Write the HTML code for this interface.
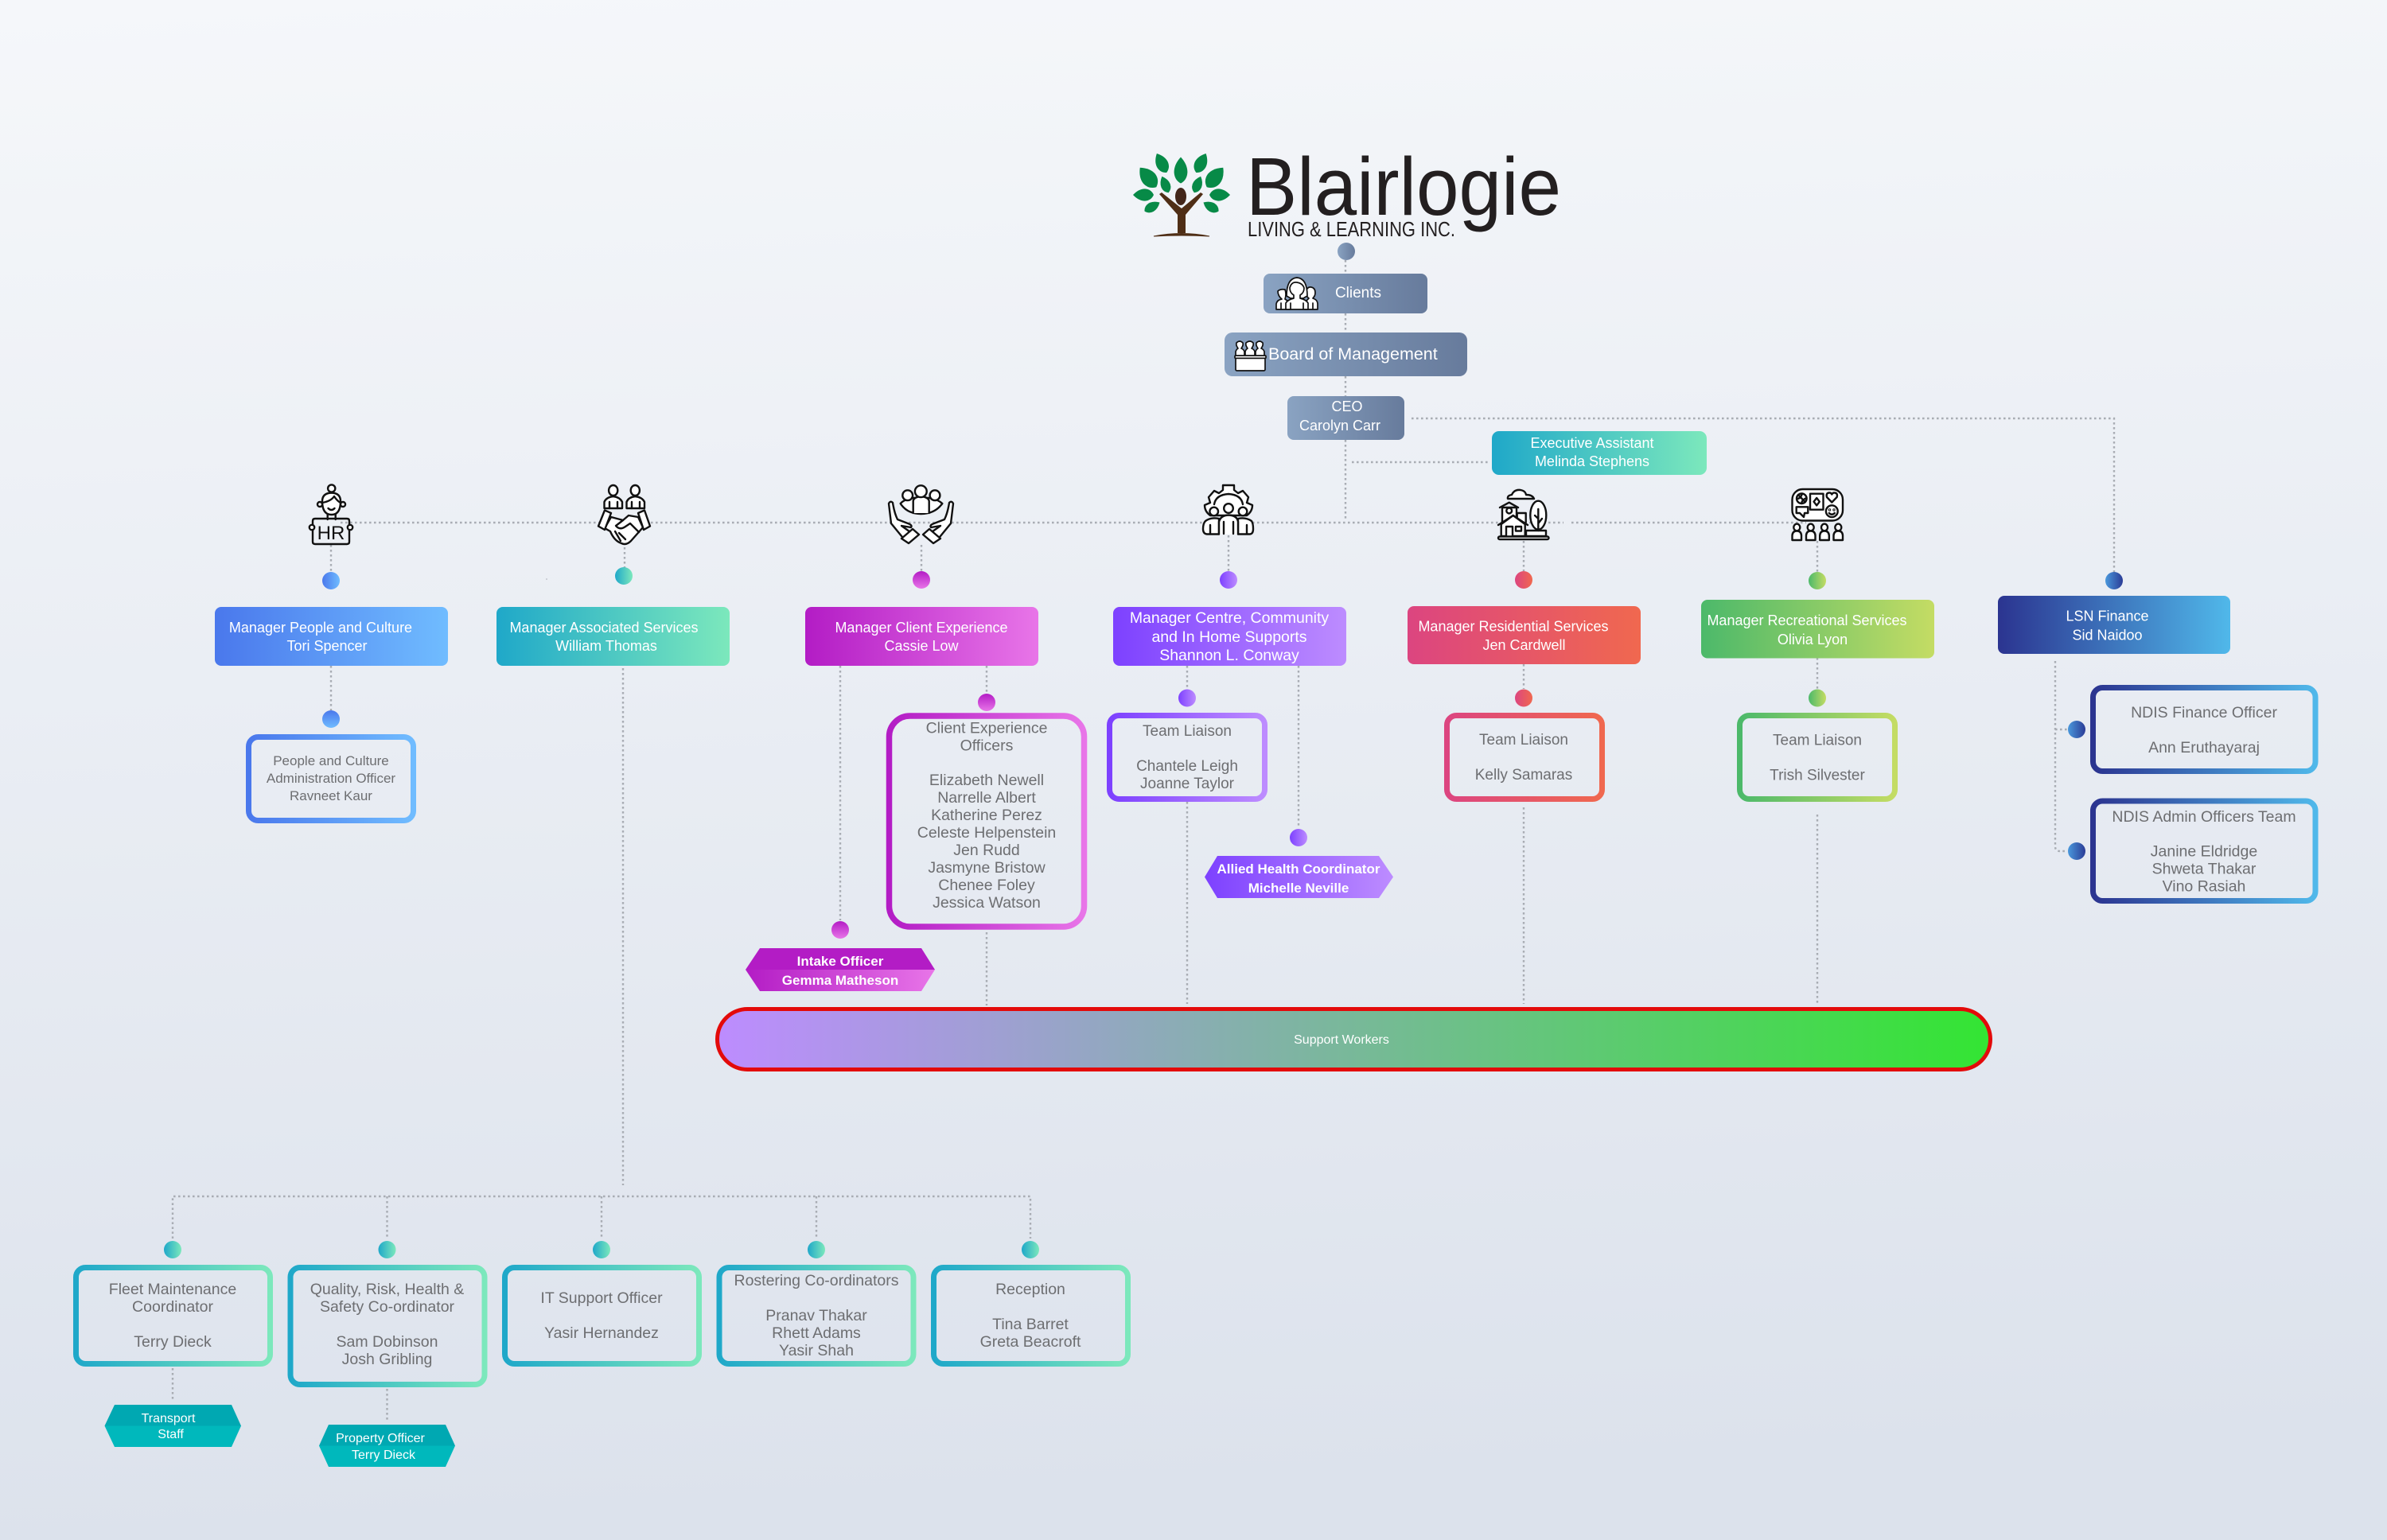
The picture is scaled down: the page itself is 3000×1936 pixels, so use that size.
<!DOCTYPE html>
<html lang="en"><head><meta charset="utf-8"><title>Blairlogie Org Chart</title>
<style>
html,body{margin:0;padding:0;background:#e8ecf2}
svg{display:block}
text{font-family:"Liberation Sans",sans-serif}
.w{fill:#fff;text-anchor:middle;font-size:18px}
.b{fill:#fff;text-anchor:middle;font-size:17px;font-weight:bold}
.g{fill:#6d6e71;text-anchor:middle;font-size:19.5px}
.c{fill:#fff;text-anchor:middle;font-size:16px}
.d{fill:none;stroke:#a9adb4;stroke-width:2.4;stroke-dasharray:2.6 3.4}
.i{fill:none;stroke:#111;stroke-width:2.4;stroke-linejoin:round;stroke-linecap:round}
.iw{fill:#fff;stroke:#111;stroke-width:2.4;stroke-linejoin:round;stroke-linecap:round}
</style></head><body>
<svg xmlns="http://www.w3.org/2000/svg" width="3000" height="1936" viewBox="0 0 3000 1936">
<defs>
<linearGradient id="bg" x1="0.1" y1="0" x2="0.18" y2="1"><stop offset="0" stop-color="#f5f7fa"/><stop offset="1" stop-color="#dce2ec"/></linearGradient>
<linearGradient id="sl"><stop offset="0" stop-color="#8aa3c2"/><stop offset="1" stop-color="#677b9c"/></linearGradient>
<linearGradient id="te"><stop offset="0" stop-color="#1fa8c9"/><stop offset="1" stop-color="#7ce8bc"/></linearGradient>
<linearGradient id="bl"><stop offset="0" stop-color="#4a78ec"/><stop offset="1" stop-color="#70bcff"/></linearGradient>
<linearGradient id="blv" x2="0" y2="1"><stop offset="0" stop-color="#4a78ec"/><stop offset="1" stop-color="#70bcff"/></linearGradient>
<linearGradient id="ma"><stop offset="0" stop-color="#b31cc5"/><stop offset="1" stop-color="#e875e8"/></linearGradient>
<linearGradient id="mav" x2="0" y2="1"><stop offset="0" stop-color="#b31cc5"/><stop offset="1" stop-color="#e875e8"/></linearGradient>
<linearGradient id="pu"><stop offset="0" stop-color="#7d41ff"/><stop offset="1" stop-color="#bd8cff"/></linearGradient>
<linearGradient id="re"><stop offset="0" stop-color="#dc4580"/><stop offset="1" stop-color="#f0684f"/></linearGradient>
<linearGradient id="gr"><stop offset="0" stop-color="#4cb96a"/><stop offset="1" stop-color="#c4dc64"/></linearGradient>
<linearGradient id="na"><stop offset="0" stop-color="#2b3490"/><stop offset="1" stop-color="#50b8ea"/></linearGradient>
<linearGradient id="nar"><stop offset="0" stop-color="#4a98dc"/><stop offset="1" stop-color="#2b3c96"/></linearGradient>
<linearGradient id="sw"><stop offset="0" stop-color="#bd8cff"/><stop offset="1" stop-color="#33e533"/></linearGradient>
<path id="l" d="M0 -1 Q.8 -.45 .8 .15 Q.75 .75 0 1 Q-.75 .75 -.8 .15 Q-.8 -.45 0 -1Z" fill="#078a47"/>
</defs>
<rect width="3000" height="1936" fill="url(#bg)"/>

<!-- connectors -->
<g class="d">
<path d="M1691 327V345M1691 394V418M1691 473V498M1691 553V653"/>
<path d="M1774 526H2657V720"/>
<path d="M1699 581H1872"/>
<path d="M428 657H1965M1975 657H2270"/>
<path d="M416 685V718M785 688V714M1158 685V718M1544 673V718M1915 680V718M2284 680V719"/>
<path d="M416 837V893"/>
<path d="M783 840V1490"/>
<path d="M217 1557V1504H1295V1557M486.5 1504V1557M756 1504V1557M1026 1504V1557"/>
<path d="M217 1720V1762M486.5 1746V1788"/>
<path d="M1056 837V1157"/>
<path d="M1240 837V872M1240 1172V1264"/>
<path d="M1492 837V866M1492 1008V1262"/>
<path d="M1632 837V1041"/>
<path d="M1915 835V866M1915 1015V1262"/>
<path d="M2284 827V866M2284 1024V1262"/>
<path d="M2583 831V1064Q2583 1070 2589 1070H2598M2583 917H2598"/>
</g>
<circle cx="687" cy="728" r="0.8" fill="#a9adb4"/>

<!-- logo -->
<use href="#l" transform="translate(1460 205) rotate(-27) scale(9.5 13.5)"/>
<use href="#l" transform="translate(1484 214) scale(10.5 16.5)"/>
<use href="#l" transform="translate(1509.5 205) rotate(27) scale(9.5 13.5)"/>
<use href="#l" transform="translate(1443 223) rotate(-40) scale(12 16)"/>
<use href="#l" transform="translate(1527 223) rotate(40) scale(12 16)"/>
<use href="#l" transform="translate(1464.5 232) rotate(-22) scale(7.5 11)"/>
<use href="#l" transform="translate(1505 232) rotate(22) scale(7.5 11)"/>
<use href="#l" transform="translate(1437 245) rotate(-90) scale(9.5 13)"/>
<use href="#l" transform="translate(1533 245) rotate(90) scale(9.5 13)"/>
<use href="#l" transform="translate(1448 260) rotate(60) scale(7.5 11)"/>
<use href="#l" transform="translate(1522 260) rotate(-60) scale(7.5 11)"/>
<ellipse cx="1484" cy="247" rx="7" ry="11" fill="#43261a"/>
<path d="M1457 244L1480 270V293H1490V270L1512 244L1509 242L1485 262L1460 242Z" fill="#4f2e16"/>
<path d="M1450 297Q1485 290 1520 297Q1485 295 1450 297Z" fill="#4f2e16" stroke="#4f2e16"/>
<text x="1566" y="270" font-size="103" fill="#231f20" textLength="396" lengthAdjust="spacingAndGlyphs">Blairlogie</text>
<text x="1568" y="297" font-size="26" fill="#231f20" textLength="261" lengthAdjust="spacingAndGlyphs">LIVING &amp; LEARNING INC.</text>

<circle cx="1692" cy="316" r="11" fill="url(#sl)"/>

<!-- top boxes -->
<rect x="1588" y="344" width="206" height="50" rx="8" fill="url(#sl)"/>
<text class="w" x="1707" y="374" style="font-size:19px">Clients</text>
<g class="iw" style="stroke-width:1.7">
<path d="M1604 389V382Q1605 377 1611 376Q1606 372 1606 366Q1609 363 1615 364Q1617 370 1615 376L1621 380V389Z"/>
<path d="M1640 389V380L1645 375Q1641 372 1641 367Q1643 360 1648 361Q1653 362 1653 368Q1653 372 1650 375Q1656 377 1656 382V389Z"/>
<path d="M1617 372Q1617 350 1630 349Q1643 350 1643 372L1638 375H1622Z"/>
<path d="M1616 389V381Q1618 377 1626 375V371Q1621 368 1621 362Q1623 354 1630 355Q1637 356 1639 362Q1639 368 1634 371V375Q1642 377 1644 381V389Z"/>
<path d="M1610 381V389M1622 381V389M1638 381V389M1650 381V389" fill="none"/>
</g>
<rect x="1539" y="418" width="305" height="55" rx="10" fill="url(#sl)"/>
<g class="iw" style="stroke-width:1.7">
<path d="M1553 448V442Q1554 439 1556 438Q1553 434 1554 431Q1558 427 1562 431Q1563 434 1560 438Q1563 439 1564 442V448Z"/>
<path d="M1565 448V442Q1566 439 1568 438Q1565 434 1566 431Q1571 427 1575 431Q1576 434 1573 438Q1576 439 1577 442V448Z"/>
<path d="M1578 448V442Q1579 439 1581 438Q1578 434 1579 431Q1583 427 1587 431Q1588 434 1585 438Q1588 439 1589 442V448Z"/>
<rect x="1553" y="450" width="37" height="16" rx="1.5"/>
<rect x="1552" y="447" width="39" height="3.4" rx="1"/>
</g>
<text class="w" x="1594" y="452" style="font-size:21.5px;text-anchor:start">Board of Management</text>
<rect x="1618" y="498" width="147" height="55" rx="8" fill="url(#sl)"/>
<text class="w" x="1693" y="517">CEO</text>
<text class="w" x="1684" y="541">Carolyn Carr</text>
<rect x="1875" y="542" width="270" height="55" rx="9" fill="url(#te)"/>
<text class="w" x="2001" y="563">Executive Assistant</text>
<text class="w" x="2001" y="586">Melinda Stephens</text>

<!-- HR -->
<g class="iw">
<circle cx="416.7" cy="614" r="4.6"/>
<circle cx="402" cy="634" r="3"/><circle cx="431" cy="634" r="3"/>
<path d="M411.7 645V653M421.7 645V653"/>
<path d="M405 630Q405 620 416.7 619.5Q428 620 428 630Q428 647 416.7 647Q405 647 405 630Z"/>
<path d="M405 632Q416 630 420 624Q424 630 428 632" fill="none"/>
<path d="M412.5 639Q416.5 643 420.5 639" fill="none"/>
<path d="M393 655Q393 652 396 652H436Q439 652 439 655V681Q439 684 436 684H396Q393 684 393 681Z" fill="none"/>
<circle cx="392" cy="663" r="3.2"/><circle cx="440" cy="663" r="3.2"/>
</g>
<text x="416" y="678" font-size="24" fill="#111" text-anchor="middle">HR</text>

<!-- handshake -->
<g class="iw">
<ellipse cx="770.7" cy="616.5" rx="5.6" ry="6.5"/><ellipse cx="798.3" cy="616.5" rx="5.6" ry="6.5"/>
<path d="M759.5 639V631Q762 625 770.7 624Q779 625 782 631V639Z"/>
<path d="M787.5 639V631Q790 625 798.3 624Q807 625 810 631V639Z"/>
<path d="M766 631V639M776 631V639M794 631V639M804 631V639" fill="none"/>
<path d="M768 650L783 654L790 648L802 650L808 663L793 680Q787 686 781 683Q772 680 767 668L760 664Z"/>
<path d="M783 654L774 661Q779 667 786 662L792 658L803 669" fill="none"/>
<path d="M778 670L786 678M773 668L780 680" fill="none"/>
<path d="M760 641.5L768 645L760 666L752 661.5Z"/>
<path d="M810 641.5L802 645L809 666L817 661.5Z"/>
</g>

<!-- hands -->
<g class="iw">
<path d="M1131.7 633Q1136 628 1147 626H1168Q1179 628 1184.3 633Q1175 646 1157.5 646Q1140 646 1131.7 633Z"/>
<path d="M1147.7 645V630Q1148 625 1157.5 624Q1167 625 1167.7 630V645" fill="#fff"/>
<circle cx="1140.7" cy="622.7" r="6.4"/><circle cx="1175" cy="622.7" r="6.4"/><circle cx="1157.3" cy="617.7" r="7.4"/>
<path d="M1117 633Q1119 629 1122 632Q1124 645 1128 653L1141 658Q1147 660 1145 663L1133 661L1147 671L1138 680L1120 658Z"/>
<path d="M1198 633Q1196 629 1193 632Q1191 645 1187 653L1174 658Q1168 660 1170 663L1182 661L1168 671L1177 680L1195 658Z"/>
<path d="M1133 677L1147 665L1155 672L1142 683Z"/>
<path d="M1182 677L1168 665L1160 672L1173 683Z"/>
</g>

<!-- gear -->
<g class="iw">
<path d="M1521 648Q1514 643 1514 635L1521 632L1519 625L1526 617L1532 620L1537 616V610H1551V616L1556 620L1562 617L1569 625L1567 632L1574 635Q1574 643 1567 648Z"/>
<path d="M1526 634Q1528 622 1544 621Q1560 622 1562 634" fill="none"/>
<circle cx="1525.7" cy="643" r="5.3"/><circle cx="1562" cy="643" r="5.3"/><circle cx="1544" cy="639" r="5.8"/>
<path d="M1532 652Q1522 650 1515 655Q1512 658 1512 665Q1512 671 1517 671.5H1532Z"/>
<path d="M1556 652Q1566 650 1573 655Q1575 658 1575 665Q1575 671 1571 671.5H1556Z"/>
<path d="M1532 671.5V656Q1534 648 1544 647.5Q1555 648 1556 656V671.5" />
<path d="M1538 656V671M1550 656V671M1521 660V671M1567 660V671" fill="none"/>
</g>

<!-- house -->
<g class="iw">
<path d="M1895 627Q1894 623 1900 622Q1903 615 1911 616Q1917 617 1918 622Q1926 622 1928 627Z"/>
<path d="M1918 667H1943V674H1918Z"/>
<ellipse cx="1933.3" cy="647.7" rx="10" ry="18"/>
<path d="M1933.3 640V667M1933.3 652L1929 648M1933.3 658L1938 652" fill="none"/>
<path d="M1906.7 653V645H1917.7V657" />
<path d="M1888 660V638H1906V660Z"/>
<path d="M1885 638L1896.7 631.7L1908 638" fill="none"/>
<circle cx="1896.7" cy="642" r="3.4"/>
<path d="M1886.7 659L1901.7 648L1916.7 659V674H1886.7Z"/>
<path d="M1883 660L1901.7 648L1920 660" fill="none"/>
<path d="M1893 674V662H1901V674" />
<rect x="1905" y="662" width="7" height="5.5"/>
<rect x="1883" y="674.5" width="63.5" height="3.6" rx="1.8"/>
</g>

<!-- game -->
<g class="iw">
<rect x="2252.5" y="615" width="63.5" height="39.5" rx="13"/>
<circle cx="2264.3" cy="626.7" r="6.3"/><path d="M2260 622L2268.8 631.2M2258.5 627Q2263 627 2265 620.5M2264 632.8Q2265 628 2270.4 626" fill="none"/>
<rect x="2275" y="620.7" width="16.5" height="20"/><path d="M2283.2 626L2286.8 630.7L2283.2 635.4L2279.6 630.7Z" fill="none"/>
<path d="M2302.3 631.5L2296 625Q2294.6 620 2298.6 619.5Q2301 619 2302.3 621.5Q2303.6 619 2306 619.5Q2310 620 2308.6 625Z"/>
<path d="M2257.7 637.3H2272.3V645H2268L2267 650L2262 645H2257.7Z"/>
<circle cx="2302.3" cy="642.7" r="7.4"/><circle cx="2299.5" cy="641" r=".5"/><circle cx="2305" cy="641" r=".5"/><path d="M2298.8 645Q2302.3 648.5 2305.8 645" fill="none"/>
<ellipse cx="2258.3" cy="663" rx="4" ry="4.4"/><path d="M2252.5 679V673Q2253 667.5 2258.3 667.5Q2263.6 667.5 2264 673V679Z"/>
<ellipse cx="2275.7" cy="663" rx="4" ry="4.4"/><path d="M2270 679V673Q2270.5 667.5 2275.7 667.5Q2281 667.5 2281.5 673V679Z"/>
<ellipse cx="2293" cy="663" rx="4" ry="4.4"/><path d="M2287.2 679V673Q2287.7 667.5 2293 667.5Q2298.3 667.5 2298.8 673V679Z"/>
<ellipse cx="2310.3" cy="663" rx="4" ry="4.4"/><path d="M2304.5 679V673Q2305 667.5 2310.3 667.5Q2315.6 667.5 2316 673V679Z"/>
</g>

<!-- dots -->
<circle cx="416" cy="730" r="11" fill="url(#bl)"/>
<circle cx="784" cy="724" r="11" fill="url(#te)"/>
<circle cx="1158" cy="729" r="11" fill="url(#mav)"/>
<circle cx="1544" cy="729" r="11" fill="url(#pu)"/>
<circle cx="1915" cy="729" r="11" fill="url(#re)"/>
<circle cx="2284" cy="730" r="11" fill="url(#gr)"/>
<circle cx="2657" cy="730" r="11" fill="url(#nar)"/>
<circle cx="416" cy="904" r="11" fill="url(#blv)"/>
<circle cx="1240" cy="883" r="11" fill="url(#mav)"/>
<circle cx="1492" cy="877.5" r="11" fill="url(#pu)"/>
<circle cx="1915" cy="877.5" r="11" fill="url(#re)"/>
<circle cx="2284" cy="877.5" r="11" fill="url(#gr)"/>
<circle cx="1632" cy="1053" r="11" fill="url(#pu)"/>
<circle cx="1056" cy="1169" r="11" fill="url(#mav)"/>
<circle cx="2610" cy="917" r="11" fill="url(#nar)"/>
<circle cx="2610" cy="1070" r="11" fill="url(#nar)"/>
<circle cx="217" cy="1571" r="11" fill="url(#te)"/>
<circle cx="486.5" cy="1571" r="11" fill="url(#te)"/>
<circle cx="756" cy="1571" r="11" fill="url(#te)"/>
<circle cx="1026" cy="1571" r="11" fill="url(#te)"/>
<circle cx="1295" cy="1571" r="11" fill="url(#te)"/>

<!-- manager boxes -->
<rect x="270" y="763" width="293" height="74" rx="8" fill="url(#bl)"/>
<text class="w" x="403" y="795">Manager People and Culture</text>
<text class="w" x="411" y="818">Tori Spencer</text>

<rect x="624" y="763" width="293" height="74" rx="8" fill="url(#te)"/>
<text class="w" x="759" y="795">Manager Associated Services</text>
<text class="w" x="762" y="818">William Thomas</text>

<rect x="1012" y="763" width="293" height="74" rx="8" fill="url(#ma)"/>
<text class="w" x="1158" y="795">Manager Client Experience</text>
<text class="w" x="1158" y="818">Cassie Low</text>

<rect x="1399" y="763" width="293" height="74" rx="8" fill="url(#pu)"/>
<text class="w" x="1545" y="783" style="font-size:19.5px">Manager Centre, Community</text>
<text class="w" x="1545" y="807" style="font-size:19.5px">and In Home Supports</text>
<text class="w" x="1545" y="830" style="font-size:19.5px">Shannon L. Conway</text>

<rect x="1769" y="762" width="293" height="73" rx="8" fill="url(#re)"/>
<text class="w" x="1902" y="793.5">Manager Residential Services</text>
<text class="w" x="1915.5" y="817">Jen Cardwell</text>

<rect x="2138" y="754" width="293" height="73.5" rx="8" fill="url(#gr)"/>
<text class="w" x="2271" y="786">Manager Recreational Services</text>
<text class="w" x="2278" y="810">Olivia Lyon</text>

<rect x="2511" y="749" width="292" height="73" rx="8" fill="url(#na)"/>
<text class="w" x="2648.5" y="780.5">LSN Finance</text>
<text class="w" x="2648.5" y="804.5">Sid Naidoo</text>

<!-- sub boxes -->
<rect x="312.5" y="926.5" width="207" height="105" rx="12" fill="none" stroke="url(#bl)" stroke-width="7"/>
<g class="g" style="font-size:17px">
<text x="416" y="962">People and Culture</text>
<text x="416" y="984">Administration Officer</text>
<text x="416" y="1006">Ravneet Kaur</text>
</g>

<rect x="1117.5" y="900" width="245" height="265" rx="26" fill="none" stroke="url(#ma)" stroke-width="7.5"/>
<g class="g">
<text x="1240" y="921.5">Client Experience</text>
<text x="1240" y="943.5">Officers</text>
<text x="1240" y="987">Elizabeth Newell</text>
<text x="1240" y="1009">Narrelle Albert</text>
<text x="1240" y="1031">Katherine Perez</text>
<text x="1240" y="1053">Celeste Helpenstein</text>
<text x="1240" y="1075">Jen Rudd</text>
<text x="1240" y="1097">Jasmyne Bristow</text>
<text x="1240" y="1119">Chenee Foley</text>
<text x="1240" y="1141">Jessica Watson</text>
</g>

<rect x="1394.5" y="899.5" width="195" height="105" rx="12" fill="none" stroke="url(#pu)" stroke-width="7"/>
<g class="g" style="font-size:19px">
<text x="1492" y="925">Team Liaison</text>
<text x="1492" y="969">Chantele Leigh</text>
<text x="1492" y="991">Joanne Taylor</text>
</g>

<rect x="1818.5" y="899.5" width="195" height="105" rx="12" fill="none" stroke="url(#re)" stroke-width="7"/>
<g class="g" style="font-size:19px">
<text x="1915" y="936">Team Liaison</text>
<text x="1915" y="980">Kelly Samaras</text>
</g>

<rect x="2186.5" y="899.5" width="195" height="105" rx="12" fill="none" stroke="url(#gr)" stroke-width="7"/>
<g class="g" style="font-size:19px">
<text x="2284" y="936.5">Team Liaison</text>
<text x="2284" y="980.5">Trish Silvester</text>
</g>

<rect x="2630.5" y="864.5" width="279.5" height="105" rx="12" fill="none" stroke="url(#na)" stroke-width="7"/>
<g class="g">
<text x="2770" y="902">NDIS Finance Officer</text>
<text x="2770" y="946">Ann Eruthayaraj</text>
</g>
<rect x="2630.5" y="1007" width="279.5" height="125.5" rx="12" fill="none" stroke="url(#na)" stroke-width="7"/>
<g class="g">
<text x="2770" y="1033">NDIS Admin Officers Team</text>
<text x="2770" y="1076.5">Janine Eldridge</text>
<text x="2770" y="1098.5">Shweta Thakar</text>
<text x="2770" y="1120.5">Vino Rasiah</text>
</g>

<!-- hex tags -->
<path d="M955 1192H1158L1175 1219H937Z" fill="#b31cc5"/>
<path d="M937 1219H1175L1158 1246H955Z" fill="url(#ma)"/>
<text class="b" x="1056" y="1214">Intake Officer</text>
<text class="b" x="1056" y="1238">Gemma Matheson</text>

<path d="M1530 1076H1733L1751 1102.5H1514Z" fill="url(#pu)"/>
<path d="M1514 1102.5H1751L1733 1129H1530Z" fill="url(#pu)"/>
<text class="b" x="1632" y="1098">Allied Health Coordinator</text>
<text class="b" x="1632" y="1122">Michelle Neville</text>

<path d="M144 1766H291L303 1792.5H131.5Z" fill="#00a8b2"/>
<path d="M131.5 1792.5H303L291 1819H144Z" fill="#00b8bc"/>
<text class="c" x="211.5" y="1788">Transport</text>
<text class="c" x="214.5" y="1808">Staff</text>

<path d="M413 1791H560L572 1817.5H401Z" fill="#00a8b2"/>
<path d="M401 1817.5H572L560 1844H413Z" fill="#00b8bc"/>
<text class="c" x="478" y="1813">Property Officer</text>
<text class="c" x="482" y="1834">Terry Dieck</text>

<!-- support workers -->
<rect x="901.5" y="1268.5" width="1600" height="76" rx="38" fill="url(#sw)" stroke="#e30a0a" stroke-width="5"/>
<text class="c" x="1686" y="1312">Support Workers</text>

<!-- bottom boxes -->
<rect x="95.5" y="1593.5" width="244" height="121" rx="12" fill="none" stroke="url(#te)" stroke-width="7"/>
<rect x="365" y="1593.5" width="244" height="147" rx="12" fill="none" stroke="url(#te)" stroke-width="7"/>
<rect x="634.5" y="1593.5" width="244" height="121" rx="12" fill="none" stroke="url(#te)" stroke-width="7"/>
<rect x="904" y="1593.5" width="244" height="121" rx="12" fill="none" stroke="url(#te)" stroke-width="7"/>
<rect x="1173.5" y="1593.5" width="244" height="121" rx="12" fill="none" stroke="url(#te)" stroke-width="7"/>
<g class="g">
<text x="217" y="1627">Fleet Maintenance</text>
<text x="217" y="1649">Coordinator</text>
<text x="217" y="1693">Terry Dieck</text>
<text x="486.5" y="1627">Quality, Risk, Health &amp;</text>
<text x="486.5" y="1649">Safety Co-ordinator</text>
<text x="486.5" y="1693">Sam Dobinson</text>
<text x="486.5" y="1715">Josh Gribling</text>
<text x="756" y="1638">IT Support Officer</text>
<text x="756" y="1682">Yasir Hernandez</text>
<text x="1026" y="1616">Rostering Co-ordinators</text>
<text x="1026" y="1660">Pranav Thakar</text>
<text x="1026" y="1682">Rhett Adams</text>
<text x="1026" y="1704">Yasir Shah</text>
<text x="1295" y="1627">Reception</text>
<text x="1295" y="1671">Tina Barret</text>
<text x="1295" y="1693">Greta Beacroft</text>
</g>
</svg>
</body></html>
